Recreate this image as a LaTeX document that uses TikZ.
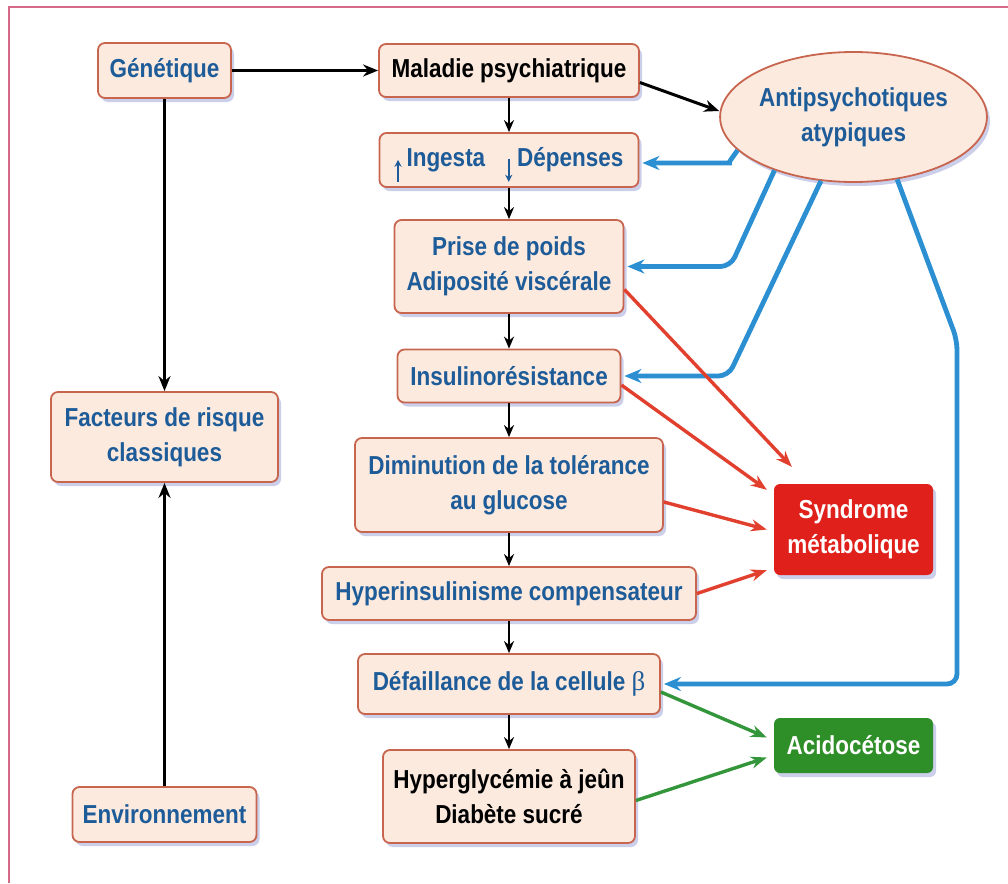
\documentclass[tikz,border=0pt]{standalone}
\usepackage{fontspec}
\setmainfont[FakeStretch=0.865]{Liberation Sans}
\newfontfamily\betafont{Liberation Serif}
\usetikzlibrary{arrows.meta,shadows,shapes.geometric,calc}
\definecolor{boxfill}{HTML}{FCEADF}
\definecolor{boxdraw}{HTML}{C8654F}
\definecolor{txtblue}{HTML}{1D5C98}
\definecolor{lineblue}{HTML}{2B8FD2}
\definecolor{linered}{HTML}{E2402E}
\definecolor{linegreen}{HTML}{34963A}
\definecolor{synfill}{HTML}{E0201A}
\definecolor{acifill}{HTML}{2E8E28}
\definecolor{framecol}{HTML}{D46A85}
\definecolor{shadowcol}{HTML}{7C86C8}
\newcommand{\upar}{\smash{\tikz[baseline=0pt]\draw[txtblue, line width=2pt, -{Stealth[length=7pt,width=7pt]}] (0pt,-15pt) -- (0pt,7pt);}}
\newcommand{\downar}{\smash{\tikz[baseline=0pt]\draw[txtblue, line width=2pt, -{Stealth[length=7pt,width=7pt]}] (0pt,8pt) -- (0pt,-15pt);}}
\tikzset{
 txt/.style={font=\bfseries\fontsize{26}{35}\selectfont, align=center, inner sep=0pt},
 box/.style={txt, draw=boxdraw, line width=1.8pt, fill=boxfill, rounded corners=7pt, text=txtblue,
   drop shadow={shadow xshift=3pt, shadow yshift=-4pt, fill=shadowcol, opacity=0.4}},
 oval/.style={txt, ellipse, draw=boxdraw, line width=1.8pt, fill=boxfill, text=txtblue,
   drop shadow={shadow xshift=3pt, shadow yshift=-4pt, fill=shadowcol, opacity=0.4}},
 outcome/.style={txt, rounded corners=6pt, text=white,
   drop shadow={shadow xshift=3pt, shadow yshift=-4pt, fill=shadowcol, opacity=0.4}},
 blackarr/.style={draw=black, line width=3pt, -{Stealth[length=15pt,width=12pt]}},
 chainarr/.style={draw=black, line width=2.6pt, -{Stealth[length=12pt,width=10pt]}},
 bluearr/.style={draw=lineblue, line width=4.8pt, rounded corners=10pt, shorten >=3pt, -{Stealth[length=17pt,width=14pt]}},
 redarr/.style={draw=linered, line width=3.4pt, -{Stealth[length=16pt,width=12pt]}},
 greenarr/.style={draw=linegreen, line width=3.4pt, -{Stealth[length=16pt,width=12pt]}},
}
\begin{document}
\begin{tikzpicture}[x=1pt,y=-1pt]
\useasboundingbox (0,0) rectangle (1008,883);
\draw[framecol, line width=2pt] (9,883) -- (9,7) -- (1008,7);

% left column
\node[box, minimum width=133pt, minimum height=55pt] (gen) at (164.5,70.5) {Génétique};
\node[box, minimum width=227pt, minimum height=90pt] (fac) at (164.5,437) {Facteurs de risque\\classiques};
\node[box, minimum width=184pt, minimum height=55pt] (env) at (164.5,814.5) {Environnement};

% central chain
\node[box, text=black, minimum width=260pt, minimum height=53pt] (mal) at (509,70.5) {Maladie psychiatrique};
\node[box, minimum width=259pt, minimum height=54pt] (ing) at (509,160)
  {\upar\hspace{5pt}Ingesta\hspace{20pt}\downar\hspace{5pt}Dépenses};
\node[box, minimum width=229pt, minimum height=93pt] (prise) at (509,266.5) {Prise de poids\\Adiposité viscérale};
\node[box, minimum width=223pt, minimum height=53pt] (ins) at (509,376) {Insulinorésistance};
\node[box, minimum width=308pt, minimum height=94pt] (dim) at (509,485) {Diminution de la tolérance\\au glucose};
\node[box, minimum width=374pt, minimum height=53pt] (hyp) at (509,593.5) {Hyperinsulinisme compensateur};
\node[box, minimum width=302pt, minimum height=60pt] (def) at (509,684) {Défaillance de la cellule {\betafont\mdseries\fontsize{27}{27}\selectfont β}};
\node[box, text=black, minimum width=252pt, minimum height=93pt] (gly) at (509,796.5) {Hyperglycémie à jeûn\\Diabète sucré};

% right column
\node[oval, minimum width=237pt, minimum height=130pt] (anti) at (853.5,117) {Antipsychotiques\\atypiques};
\node[outcome, fill=synfill, minimum width=159pt, minimum height=91pt] (syn) at (853.5,529.5) {Syndrome\\métabolique};
\node[outcome, fill=acifill, minimum width=159pt, minimum height=55pt] (aci) at (853.5,745.5) {Acidocétose};

% black connectors
\draw[blackarr] (gen.east) -- (mal.west);
\draw[blackarr] (gen.south) -- (gen.south |- fac.north);
\draw[blackarr] (env.north) -- (env.north |- fac.south);
\draw[blackarr] ([yshift=-12pt]mal.east) -- ([yshift=6pt]anti.west);

% chain
\draw[chainarr] (mal.south) -- (ing.north);
\draw[chainarr] (ing.south) -- (prise.north);
\draw[chainarr] (prise.south) -- (ins.north);
\draw[chainarr] (ins.south) -- (dim.north);
\draw[chainarr] (dim.south) -- (hyp.north);
\draw[chainarr] (hyp.south) -- (def.north);
\draw[chainarr] (def.south) -- (gly.north);

% blue connectors
\coordinate (bend) at (957,340);
\draw[bluearr] (anti.196) to[out=235,in=0] ($([yshift=-3pt]ing.east)+(80,0)$) -- ([yshift=-3pt]ing.east);
\draw[bluearr] (anti.214) -- ($(prise.east)+(106,0)$) -- (prise.east);
\draw[bluearr] (anti.243) -- ($(ins.east)+(107,0)$) -- (ins.east);
\draw[bluearr] (anti.305) -- (bend) -- (bend |- def.east) -- (def.east);

% red connectors
\draw[redarr] ([yshift=-23pt]prise.east) -- ([xshift=18pt,yshift=17pt]syn.north west);
\draw[redarr] ([yshift=-9pt]ins.east) -- ([xshift=-7pt,yshift=-6pt]syn.north west);
\draw[redarr] ([yshift=-17pt]dim.east) -- ([xshift=-7pt]syn.west);
\draw[redarr] (hyp.east) -- ([xshift=-7pt,yshift=5pt]syn.south west);

% green connectors
\draw[greenarr] ([yshift=-8pt]def.east) -- ([xshift=-7pt,yshift=8pt]aci.west);
\draw[greenarr] ([yshift=-4pt]gly.east) -- ([xshift=-7pt,yshift=-12pt]aci.west);
\end{tikzpicture}
\end{document}
